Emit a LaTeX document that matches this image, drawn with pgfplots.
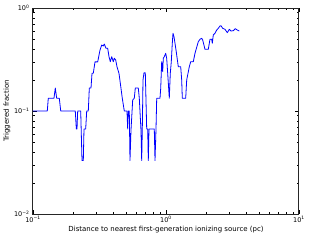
\documentclass[border=0pt]{standalone}
\usepackage{fontspec}
\setmainfont{DejaVu Sans}
\usepackage{pgfplots}
\pgfplotsset{compat=1.18}
\begin{document}
\begin{tikzpicture}[x=1bp,y=1bp]
\begin{axis}[
  scale only axis,
  width=266bp, height=206bp,
  xmode=log, ymode=log,
  xmin=0.1, xmax=10, ymin=0.01, ymax=1,
  xtick={0.1,1,10}, xticklabels={10\textsuperscript{−1},10\textsuperscript{0},10\textsuperscript{1}},
  ytick={0.01,0.1,1}, yticklabels={10\textsuperscript{−2},10\textsuperscript{−1},10\textsuperscript{0}},
  tick align=inside,
  major tick length=4bp, minor tick length=2bp,
  tick style={black, line width=0.5bp},
  axis line style={black!85, line width=1bp},
  ticklabel style={font=\fontsize{6.5}{7}\selectfont},
  label style={font=\fontsize{7}{8}\selectfont},
  xlabel={Distance to nearest first-generation ionizing source (pc)},
  ylabel={Triggered fraction},
  xlabel style={yshift=3bp},
  ylabel style={yshift=-3bp},
  xticklabel style={yshift=1bp},
  every axis plot/.append style={line join=round},
]
\addplot[color={rgb,1:red,0;green,0;blue,1}, line width=0.8bp] coordinates {
(0.1,0.1)
(0.1281,0.1)
(0.1303,0.133)
(0.1438,0.133)
(0.1471,0.167)
(0.1507,0.133)
(0.1577,0.133)
(0.1616,0.1)
(0.2080,0.1)
(0.2117,0.067)
(0.2142,0.067)
(0.2168,0.1)
(0.2284,0.1)
(0.2336,0.033)
(0.2389,0.033)
(0.2418,0.067)
(0.2490,0.067)
(0.2534,0.1)
(0.2605,0.1)
(0.2651,0.167)
(0.2730,0.167)
(0.2778,0.233)
(0.2841,0.233)
(0.2926,0.3)
(0.3066,0.3)
(0.3189,0.39)
(0.3284,0.437)
(0.3377,0.428)
(0.3436,0.447)
(0.3539,0.406)
(0.3645,0.406)
(0.3728,0.337)
(0.3813,0.301)
(0.3906,0.337)
(0.4016,0.301)
(0.4086,0.325)
(0.4186,0.313)
(0.4281,0.269)
(0.4432,0.232)
(0.4588,0.166)
(0.4692,0.133)
(0.4858,0.1)
(0.5090,0.1)
(0.5152,0.067)
(0.5206,0.1)
(0.5297,0.1)
(0.5361,0.033)
(0.5455,0.065)
(0.5618,0.128)
(0.5776,0.133)
(0.5877,0.167)
(0.6191,0.167)
(0.6299,0.133)
(0.6486,0.065)
(0.6566,0.033)
(0.6634,0.065)
(0.6716,0.2)
(0.6833,0.235)
(0.6990,0.235)
(0.7161,0.067)
(0.7286,0.067)
(0.7362,0.033)
(0.7452,0.067)
(0.8166,0.067)
(0.8267,0.033)
(0.8412,0.067)
(0.8515,0.133)
(0.9015,0.133)
(0.9126,0.166)
(0.9283,0.301)
(0.9445,0.241)
(0.9543,0.325)
(0.9710,0.337)
(0.9947,0.363)
(1.0122,0.325)
(1.0299,0.232)
(1.0588,0.133)
(1.0772,0.232)
(1.0960,0.301)
(1.1152,0.454)
(1.1288,0.568)
(1.1486,0.527)
(1.1687,0.454)
(1.1892,0.391)
(1.2375,0.269)
(1.2899,0.269)
(1.3124,0.2)
(1.3262,0.133)
(1.4065,0.133)
(1.4310,0.2)
(1.4970,0.269)
(1.5336,0.301)
(1.6045,0.301)
(1.6520,0.363)
(1.7496,0.471)
(1.8017,0.497)
(1.8553,0.508)
(1.8878,0.489)
(1.9645,0.397)
(2.0797,0.397)
(2.1418,0.497)
(2.2058,0.497)
(2.2288,0.454)
(2.2677,0.547)
(2.3354,0.568)
(2.4051,0.611)
(2.4726,0.635)
(2.5468,0.669)
(2.5912,0.673)
(2.6687,0.635)
(2.7773,0.621)
(2.8902,0.576)
(2.9919,0.621)
(3.0814,0.598)
(3.2063,0.602)
(3.3196,0.630)
(3.4364,0.611)
(3.5571,0.598)
};
\coordinate (sw) at (rel axis cs:0,0);
\coordinate (ne) at (rel axis cs:1,1);
\end{axis}
\pgfresetboundingbox
\path ([xshift=-33bp,yshift=-26bp]sw) rectangle ([xshift=12bp,yshift=8bp]ne);
\end{tikzpicture}
\end{document}
